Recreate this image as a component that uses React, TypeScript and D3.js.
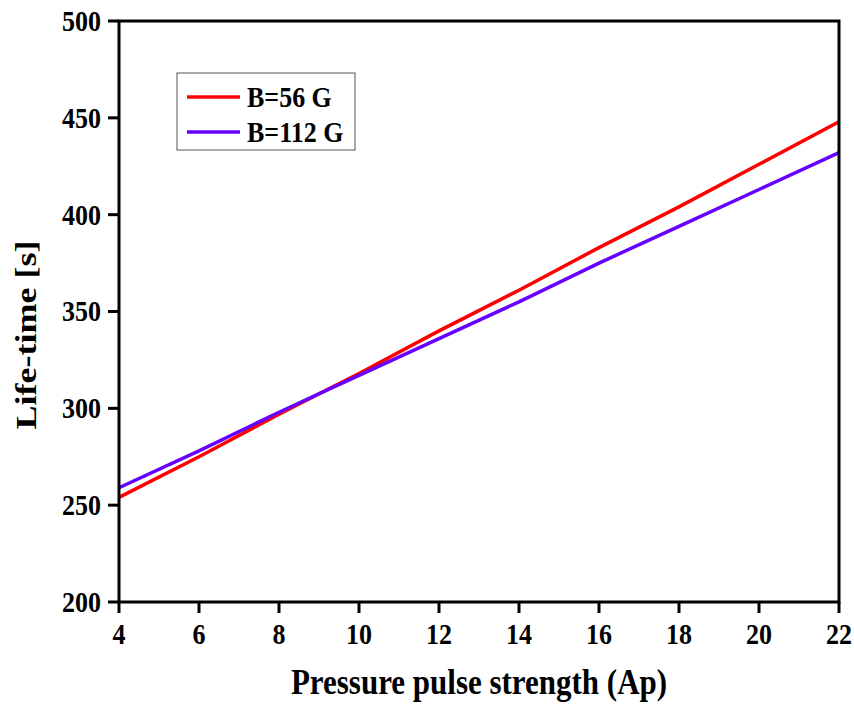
import React from 'react';
import * as d3 from 'd3';

const xValues = [4, 6, 8, 10, 12, 14, 16, 18, 20, 22];
const red56 = [254, 275, 297, 318, 340, 361, 383, 404, 426, 448];
const blue112 = [259, 278, 298, 317, 336, 355, 375, 394, 413, 432];
const xTicks = [4, 6, 8, 10, 12, 14, 16, 18, 20, 22];
const yTicks = [200, 250, 300, 350, 400, 450, 500];

const series = [
  { name: 'B=56 G', values: red56, color: '#ff0000' },
  { name: 'B=112 G', values: blue112, color: '#6600ff' },
];

const W = 854;
const H = 704;
const margin = { top: 21, right: 15, bottom: 102, left: 119 };
const font = '"Liberation Serif", "Times New Roman", serif';
// the source picture is a bit stretched vertically, so text is too
const stretch = 1.15;

const App = () => {
  const innerW = W - margin.left - margin.right;
  const innerH = H - margin.top - margin.bottom;

  const x = d3.scaleLinear().domain([4, 22]).range([0, innerW]);
  const y = d3.scaleLinear().domain([200, 500]).range([innerH, 0]);

  const line = d3.line<number>()
    .x((_, i) => x(xValues[i]))
    .y(d => y(d));

  return (
    <svg width={W} height={H} style={{ position: 'absolute', left: 0, top: 0, background: '#fff' }}>
      <g transform={`translate(${margin.left},${margin.top})`}>
        {series.map(s => (
          <path key={s.name} d={line(s.values) || ''} fill="none" stroke={s.color} strokeWidth={3.5} />
        ))}

        {/* frame */}
        <rect x={0} y={0} width={innerW} height={innerH} fill="none" stroke="#000" strokeWidth={3} />

        {/* x ticks */}
        {xTicks.map(t => (
          <g key={t} transform={`translate(${x(t)},${innerH})`}>
            <line y1={0} y2={11} stroke="#000" strokeWidth={3} />
            <text transform={`translate(0,42) scale(1,${stretch})`} textAnchor="middle"
              fontFamily={font} fontWeight="bold" fontSize={26}>{t}</text>
          </g>
        ))}

        {/* y ticks */}
        {yTicks.map(t => (
          <g key={t} transform={`translate(0,${y(t)})`}>
            <line x1={0} x2={-11} stroke="#000" strokeWidth={3} />
            <text transform={`translate(-18,0) scale(1,${stretch})`} dy="0.33em" textAnchor="end"
              fontFamily={font} fontWeight="bold" fontSize={26}>{t}</text>
          </g>
        ))}

        {/* legend */}
        <g transform="translate(58,52)">
          <rect x={0} y={0} width={178} height={77} fill="#fff" stroke="#555" strokeWidth={1} />
          {series.map((s, i) => (
            <g key={s.name} transform={`translate(0,${24 + i * 35})`}>
              <line x1={10} x2={63} stroke={s.color} strokeWidth={3.5} />
              <text transform={`translate(70,10) scale(1,${stretch})`}
                fontFamily={font} fontWeight="bold" fontSize={26}>{s.name}</text>
            </g>
          ))}
        </g>
      </g>

      {/* axis titles */}
      <text transform={`translate(${margin.left + innerW / 2},694) scale(1,${stretch})`} textAnchor="middle"
        fontFamily={font} fontWeight="bold" fontSize={31}>
        Pressure pulse strength (Ap)
      </text>
      <text transform={`translate(36,335) rotate(-90) scale(1.2,1)`} textAnchor="middle"
        fontFamily={font} fontWeight="bold" fontSize={30}>
        Life-time [s]
      </text>
    </svg>
  );
};

export default App;
